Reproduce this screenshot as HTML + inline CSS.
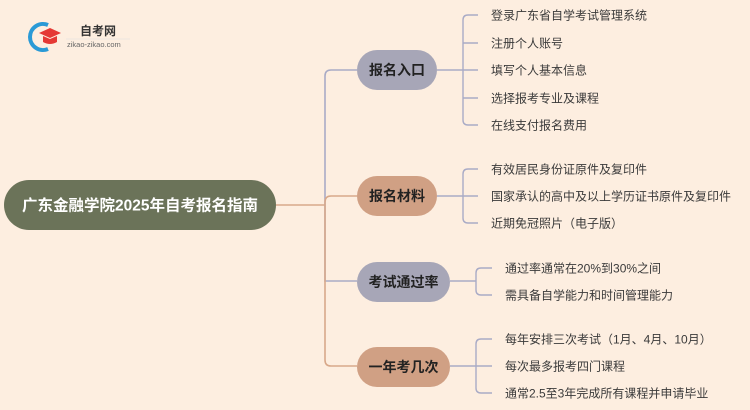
<!DOCTYPE html>
<html><head><meta charset="utf-8"><style>
body{margin:0;background:#fdeee0;}
svg{display:block;font-family:"Liberation Sans","Noto Sans CJK SC",sans-serif;}
.l{font-size:12px;fill:#3a3a3a;}
.n{font-size:14px;font-weight:bold;fill:#222;}
</style></head><body>
<svg width="750" height="410" viewBox="0 0 750 410">
<rect width="750" height="410" fill="#fdeee0"/>
<!-- logo -->
<path d="M48 25 A13 13 0 1 0 48 49" fill="none" stroke="#2a9ad6" stroke-width="4"/>
<path d="M39 33 L50 28 L61 33 L50 38 Z" fill="#e53935"/>
<path d="M43 36 L43 42 Q50 46 57 42 L57 36 L50 39 Z" fill="#e53935"/>
<text x="80" y="35" font-size="12" font-weight="bold" fill="#333">自考网</text>
<line x1="66" y1="39" x2="130" y2="39" stroke="#ddd" stroke-width="0.6"/>
<text x="67" y="47" font-size="7.5" fill="#666">zikao-zikao.com</text>
<!-- trunk -->
<g fill="none" stroke-width="1.6">
<path d="M276 205 H325" stroke="#d8a88a"/>
<path d="M325 205 V76 Q325 70 331 70 H357" stroke="#a9abc6"/>
<path d="M325 205 V202 Q325 196 331 196 H357" stroke="#d8a88a"/>
<path d="M325 205 V281 Q325 281 331 281 H357" stroke="#a9abc6"/>
<path d="M325 205 V360 Q325 366 331 366 H357" stroke="#d8a88a"/>
</g>
<g fill="none" stroke="#a9abc6" stroke-width="1.4">
<path d="M437 70 H463 M478 15 H468 Q463 15 463 20 V120 Q463 125 468 125 H478 M463 43 H478 M463 70 H478 M463 98 H478"/>
<path d="M437 196 H463 M478 169 H468 Q463 169 463 174 V218 Q463 223 468 223 H478 M463 196 H478"/>
<path d="M450 281 H476 M492 268 H481 Q476 268 476 273 V290 Q476 295 481 295 H492"/>
<path d="M450 366 H476 M492 339 H481 Q476 339 476 344 V388 Q476 393 481 393 H492 M476 366 H492"/>
</g>
<!-- root -->
<rect x="4" y="180" width="272" height="50" rx="25" fill="#6b7359"/>
<text x="140" y="210.5" text-anchor="middle" font-size="15.5" font-weight="bold" fill="#fff">广东金融学院2025年自考报名指南</text>
<!-- nodes -->
<rect x="357" y="50" width="80" height="40" rx="20" fill="#a7a6b7"/>
<text x="397" y="75" text-anchor="middle" class="n">报名入口</text>
<rect x="357" y="176" width="80" height="40" rx="20" fill="#d0a084"/>
<text x="397" y="201" text-anchor="middle" class="n">报名材料</text>
<rect x="357" y="262" width="93" height="40" rx="20" fill="#a7a6b7"/>
<text x="403.5" y="287" text-anchor="middle" class="n">考试通过率</text>
<rect x="357" y="347" width="93" height="40" rx="20" fill="#d0a084"/>
<text x="403.5" y="372" text-anchor="middle" class="n">一年考几次</text>
<!-- leaves -->
<g class="l">
<text x="491" y="19.5">登录广东省自学考试管理系统</text>
<text x="491" y="47.5">注册个人账号</text>
<text x="491" y="74.5">填写个人基本信息</text>
<text x="491" y="102.5">选择报考专业及课程</text>
<text x="491" y="129.5">在线支付报名费用</text>
<text x="491" y="173.5">有效居民身份证原件及复印件</text>
<text x="491" y="200.5">国家承认的高中及以上学历证书原件及复印件</text>
<text x="491" y="227.5">近期免冠照片（电子版）</text>
<text x="505" y="272.5">通过率通常在20%到30%之间</text>
<text x="505" y="299.5">需具备自学能力和时间管理能力</text>
<text x="505" y="343.5">每年安排三次考试（1月、4月、10月）</text>
<text x="505" y="370.5">每次最多报考四门课程</text>
<text x="505" y="397.5">通常2.5至3年完成所有课程并申请毕业</text>
</g>
</svg>
</body></html>
